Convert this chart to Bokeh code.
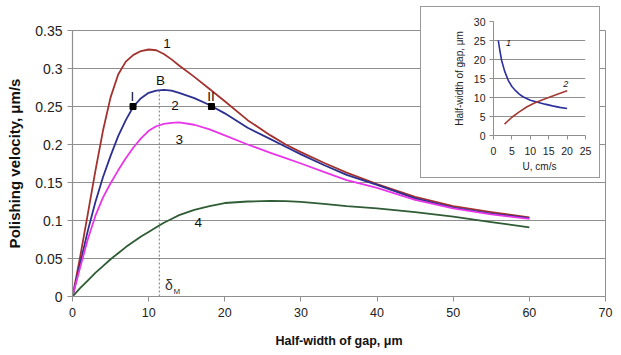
from bokeh.plotting import figure
from bokeh.models import Range1d, FixedTicker, Label
from bokeh.layouts import column
from bokeh.core.properties import value
from bokeh.embed import file_html
from bokeh.resources import INLINE

# ---- main chart data ----
x_gap = [0, 0.5, 1, 2, 3, 4, 5, 6, 7, 8, 9, 10, 11, 12, 13, 14, 16, 18, 20, 23, 26, 28, 30, 33, 36, 40, 45, 50, 55, 60]
v1 = [0, 0.026, 0.052, 0.108, 0.165, 0.218, 0.262, 0.292, 0.309, 0.318, 0.323, 0.325, 0.324, 0.319, 0.312, 0.304,
      0.289, 0.273, 0.257, 0.232, 0.212, 0.200, 0.190, 0.176, 0.163, 0.148, 0.131, 0.119, 0.111, 0.104]
v2 = [0, 0.021, 0.043, 0.086, 0.124, 0.157, 0.185, 0.211, 0.232, 0.250, 0.261, 0.268, 0.271, 0.272, 0.271, 0.268,
      0.261, 0.252, 0.241, 0.222, 0.207, 0.197, 0.187, 0.173, 0.160, 0.147, 0.129, 0.117, 0.109, 0.103]
v3 = [0, 0.019, 0.038, 0.075, 0.106, 0.130, 0.149, 0.166, 0.182, 0.196, 0.208, 0.218, 0.224, 0.227, 0.2285, 0.229,
      0.226, 0.220, 0.212, 0.200, 0.189, 0.182, 0.175, 0.164, 0.153, 0.143, 0.127, 0.116, 0.108, 0.102]
v4 = [0, 0.0055, 0.011, 0.021, 0.031, 0.040, 0.049, 0.057, 0.065, 0.072, 0.079, 0.085, 0.091, 0.097, 0.102, 0.107,
      0.114, 0.119, 0.123, 0.125, 0.1258, 0.1255, 0.1245, 0.122, 0.119, 0.116, 0.111, 0.105, 0.098, 0.091]

x_ticks = [0, 10, 20, 30, 40, 50, 60, 70]
y_ticks = [0, 0.05, 0.1, 0.15, 0.2, 0.25, 0.3, 0.35]
y_tick_labels = ["0", "0.05", "0.1", "0.15", "0.2", "0.25", "0.3", "0.35"]

# marked points I, II and B
pts_x = [7.95, 18.25]
pts_y = [0.25, 0.25]
delta_m = 11.4
b_peak = 0.272

# curve labels
lab_text = ["1", "B", "I", "II", "2", "3", "4"]
lab_x = [12.4, 11.57, 7.85, 18.2, 13.46, 14.02, 16.5]
lab_y = [0.333, 0.2842, 0.2632, 0.2632, 0.2513, 0.2062, 0.0978]

# ---- inset data ----
u1 = [1.3, 1.7, 2.2, 3, 4, 5, 6, 7, 8, 10, 12, 14, 16, 18, 20]
h1 = [25, 22.5, 19.8, 17.0, 14.5, 12.9, 11.8, 10.9, 10.2, 9.3, 8.75, 8.25, 7.8, 7.4, 7.1]
u2 = [3, 5, 7, 9, 11, 13, 15, 17, 20]
h2 = [3.0, 4.8, 6.2, 7.5, 8.5, 9.3, 10.0, 10.7, 11.8]
inset_x_ticks = [0, 5, 10, 15, 20, 25]
inset_y_ticks = [0, 5, 10, 15, 20, 25, 30]
inset_lab_text = ["1", "2"]
inset_lab_x = [4.1, 19.6]
inset_lab_y = [24.4, 13.6]

FONT = "Liberation Sans"
GRID = "#8f8f8f"
TXT = "#222222"

p = figure(width=621, height=355, x_range=Range1d(0, 70), y_range=Range1d(0, 0.35),
           output_backend="svg", toolbar_location=None,
           min_border_left=72, min_border_right=16, min_border_top=30, min_border_bottom=59)
p.background_fill_color = "white"
p.border_fill_color = "white"
p.outline_line_color = GRID
p.outline_line_width = 1

p.xgrid.visible = False
p.ygrid.grid_line_color = GRID
p.ygrid.grid_line_width = 1.2
p.ygrid.ticker = FixedTicker(ticks=y_ticks)

p.xaxis.ticker = FixedTicker(ticks=x_ticks)
p.yaxis.ticker = FixedTicker(ticks=y_ticks)
p.yaxis.major_label_overrides = {t: s for t, s in zip(y_ticks, y_tick_labels)}
for ax in (p.xaxis, p.yaxis):
    ax.axis_line_color = GRID
    ax.axis_line_width = 1.2
    ax.major_tick_line_color = GRID
    ax.major_tick_out = 5
    ax.major_tick_in = 0
    ax.minor_tick_line_color = None
    ax.major_label_text_font = FONT
    ax.major_label_text_color = TXT
    ax.axis_label_text_font = FONT
    ax.axis_label_text_font_style = "bold"
    ax.axis_label_text_color = "#111111"
p.xaxis.major_label_text_font_size = "12.5px"
p.yaxis.major_label_text_font_size = "14px"
p.xaxis.major_label_standoff = 6
p.yaxis.major_label_standoff = 5
p.xaxis.axis_label = "Half-width of gap, μm"
p.yaxis.axis_label = "Polishing velocity, μm/s"
p.xaxis.axis_label_text_font_size = "12.5px"
p.yaxis.axis_label_text_font_size = "15px"
p.xaxis.axis_label_standoff = 14
p.yaxis.axis_label_standoff = 9

for ys, col in ((v1, "#A3322E"), (v2, "#2C2F8E"), (v3, "#E836E8"), (v4, "#2F5C35")):
    p.line(x_gap, ys, line_color=col, line_width=1.8, line_join="round")

p.segment(x0=[delta_m], y0=[0], x1=[delta_m], y1=[b_peak], line_color="#777777",
          line_dash="2 2", line_width=1)
p.scatter(pts_x, pts_y, marker="square", size=6, color="black")

p.text(x=lab_x, y=lab_y, text=lab_text, text_align="center", text_baseline="middle",
       text_font=value(FONT), text_font_size="13.5px", text_color="#111111")
p.add_layout(Label(x=delta_m + 0.75, y=0.005, text="δ", text_font=FONT, text_font_size="14px",
                   text_color="#333333"))
p.add_layout(Label(x=delta_m + 1.85, y=0.001, text="M", text_font=FONT, text_font_size="8px",
                   text_color="#333333"))

# ---- inset figure ----
q = figure(width=180, height=172, x_range=Range1d(0, 25), y_range=Range1d(0, 30),
           output_backend="svg", toolbar_location=None,
           min_border_left=55, min_border_right=14, min_border_top=14, min_border_bottom=44,
           styles={"position": "absolute", "left": "420px", "top": "6px",
                   "border": "1px solid #9a9a9a", "background": "white"})
q.background_fill_color = "white"
q.border_fill_color = "white"
q.outline_line_color = None
q.xgrid.visible = False
q.ygrid.grid_line_color = GRID
q.ygrid.grid_line_width = 1.2
q.ygrid.ticker = FixedTicker(ticks=inset_y_ticks[:-1])
q.xaxis.ticker = FixedTicker(ticks=inset_x_ticks)
q.yaxis.ticker = FixedTicker(ticks=inset_y_ticks)
for ax in (q.xaxis, q.yaxis):
    ax.axis_line_color = GRID
    ax.major_tick_line_color = GRID
    ax.major_tick_out = 4
    ax.major_tick_in = 0
    ax.minor_tick_line_color = None
    ax.major_label_text_font = FONT
    ax.major_label_text_font_size = "10.5px"
    ax.major_label_text_color = TXT
    ax.axis_label_text_font = FONT
    ax.axis_label_text_font_size = "10px"
    ax.axis_label_text_font_style = "normal"
    ax.axis_label_text_color = TXT
q.xaxis.major_label_standoff = 7
q.yaxis.major_label_standoff = 4
q.xaxis.axis_label = "U, cm/s"
q.yaxis.axis_label = "Half-width of gap, μm"
q.xaxis.axis_label_standoff = 3
q.yaxis.axis_label_standoff = 6

q.line(u1, h1, line_color="#2C2F9E", line_width=1.6, line_join="round")
q.line(u2, h2, line_color="#A33A34", line_width=1.6, line_join="round")
q.text(x=inset_lab_x, y=inset_lab_y, text=inset_lab_text, text_align="center", text_baseline="middle",
       text_font=value(FONT), text_font_size="9px", text_font_style="italic", text_color="#111111")
q.add_layout(Label(x=-8.6, y=-9.2, text="a", text_font=FONT, text_font_size="11px",
                   text_color="#333333", text_align="center", text_baseline="middle"))

layout = column(p, q)
open("out.html", "w").write(file_html(layout, INLINE))
